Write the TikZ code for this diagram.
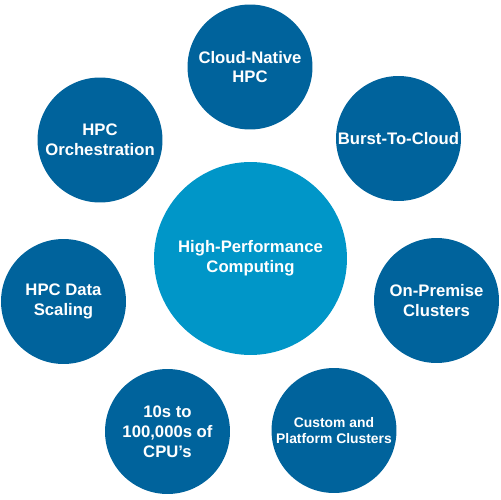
\documentclass[tikz,border=0pt]{standalone}
\usepackage{fontspec}
\setmainfont{Liberation Sans}
\usepackage{tikz}
\usetikzlibrary{calc}

\definecolor{hpcdark}{RGB}{0,99,156}
\definecolor{hpclight}{RGB}{0,150,200}

\begin{document}
\begin{tikzpicture}[x=0.02cm, y=-0.02cm,
  bubble/.style={circle, fill=hpcdark, text=white, align=center, inner sep=0pt,
    minimum size=2.5cm, font=\bfseries\fontsize{9.5}{11.3}\selectfont}]

\useasboundingbox (0,0) rectangle (500,500);

\node[bubble, fill=hpclight, minimum size=3.86cm] (hpc) at (250.5,258.5) {High-Performance\\Computing};

\node[bubble] (cloudnative) at (250,67) {Cloud-Native\\HPC};
\node[bubble] (burst) at (398.5,138.5) {Burst-To-Cloud};
\node[bubble] (onprem) at (436.5,300.5) {On-Premise\\Clusters};
\node[bubble, font=\bfseries\fontsize{7.9}{9.1}\selectfont] (custom) at (334,430.5) {Custom and\\Platform Clusters};
\node[bubble] (cpus) at (167.5,431.5) {10s to\\100,000s of\\CPU's};
\node[bubble] (scaling) at (63.5,301.5) {HPC Data\\Scaling};
\node[bubble] (orch) at (100,140) {HPC\\Orchestration};

\end{tikzpicture}
\end{document}
